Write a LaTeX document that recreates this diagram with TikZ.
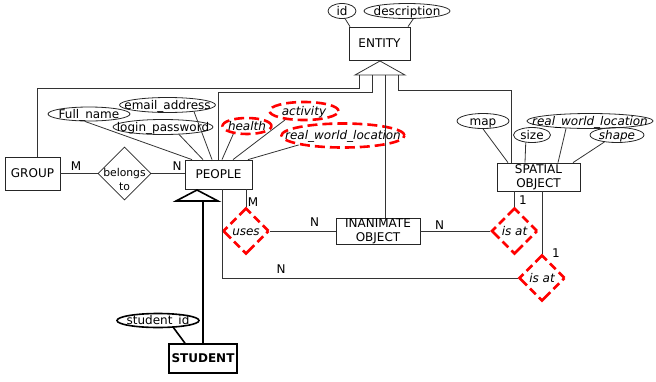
\documentclass[tikz,border=0pt]{standalone}
\usepackage{fontspec}
\setmainfont{DejaVu Sans}[Scale=1.2]
\usetikzlibrary{shapes.geometric}

\begin{document}
\begin{tikzpicture}[x=1pt, y=-1pt,
  ent/.style={draw=black!85, line width=0.8pt, inner sep=0pt, align=center, font=\fontsize{10}{14}\selectfont},
  att/.style={ellipse, draw=black!85, line width=0.8pt, inner sep=0pt, minimum height=14pt},
  datt/.style={ellipse, draw=red, line width=2.6pt, dash pattern=on 10pt off 5pt, inner sep=0pt},
  rel/.style={diamond, draw=black!85, line width=0.8pt, inner sep=0pt},
  drel/.style={diamond, draw=red, line width=2.6pt, inner sep=0pt, minimum width=46pt, minimum height=46pt,
    dash pattern=on 16pt off 4.5pt on 8pt off 4.5pt, dash phase=8pt},
  conn/.style={draw=black!80, line width=0.8pt},
  card/.style={inner sep=0pt},
  every label/.style={inner sep=0pt, text height=9pt, text depth=1pt}]
  \useasboundingbox (0,0) rectangle (656,381);

  \node[ent, minimum width=61pt, minimum height=33pt] (entity) at (379.5,43.5) {ENTITY};
  \node[att, minimum width=28pt, minimum height=15pt, label=center:id] (id) at (342,11) {};
  \node[att, minimum width=86pt, minimum height=15pt, label=center:description] (descr) at (407,11) {};

  \node[ent, minimum width=55pt, minimum height=33pt] (group) at (32.5,173.5) {GROUP};
  \node[rel, minimum width=53pt, minimum height=53pt,
    label={[align=center, text height=, text depth=, font=\fontsize{9}{14}\selectfont, yshift=-6pt]center:belongs\\to}] (belongs) at (124.5,173.5) {};

  \node[ent, minimum width=67pt, minimum height=29pt] (people) at (218.5,174.5) {PEOPLE};
  \node[att, minimum width=82pt, label=center:Full\_name] (fullname) at (89,114) {};
  \node[att, minimum width=96pt, minimum height=15pt, label=center:email\_address] (email) at (167.5,105) {};
  \node[att, minimum width=100pt, minimum height=15pt, label=center:login\_password] (login) at (163,127) {};
  \node[datt, minimum width=49pt, minimum height=16pt, label={[font=\itshape]center:health}] (health) at (247,126) {};
  \node[datt, minimum width=69pt, minimum height=18pt, label={[font=\itshape]center:activity}] (activity) at (304,111) {};
  \node[datt, minimum width=123pt, minimum height=24pt, label={[font=\itshape]center:real\_world\_location}] (plocation) at (343,135.5) {};

  \node[ent, minimum width=83pt, minimum height=28pt] (spatial) at (538.5,177) {SPATIAL\\OBJECT};
  \node[att, minimum width=52pt, minimum height=15pt, label=center:map] (map) at (483,121) {};
  \node[att, minimum width=37pt, minimum height=15pt, label=center:size] (size) at (532,135) {};
  \node[att, minimum width=126pt, minimum height=15pt, label={[font=\itshape]center:real\_world\_location}] (slocation) at (590,121) {};
  \node[att, minimum width=54pt, minimum height=15pt, label={[font=\itshape]center:shape}] (shape) at (617,135) {};

  \node[ent, minimum width=84pt, minimum height=26pt] (inanimate) at (378,231) {INANIMATE\\OBJECT};
  \node[drel, label={[font=\itshape]center:uses}] (uses) at (246,231) {};
  \node[drel, label={[font=\itshape]center:is at}] (isat1) at (514.5,231) {};
  \node[drel, label={[font=\itshape]center:is at}] (isat2) at (542,278) {};

  \node[ent, draw=black, line width=1.6pt, minimum width=68pt, minimum height=29pt, font=\bfseries] (student) at (203,358.5) {STUDENT};
  \node[att, draw=black, line width=1.6pt, minimum width=82pt, label=center:student\_id] (studentid) at (158,320.5) {};

  \node[card] (cgroup) at (76,166) {M};
  \node[card] (cpeople) at (177,166) {N};
  \node[card] (cuses1) at (253,202.5) {M};
  \node[card] (cuses2) at (314.5,222) {N};
  \node[card] (cisat1a) at (439.5,225) {N};
  \node[card] (cisat1b) at (523,200.5) {1};
  \node[card] (cisat2a) at (556,253) {1};
  \node[card] (cisat2b) at (281,269) {N};

  \coordinate (isa1) at (380,61);
  \coordinate (isaG) at (359,75);
  \coordinate (isaP) at (372,75);
  \coordinate (isaI) at (385,75);
  \coordinate (isaS) at (398,75);
  \draw[conn] (isa1) -- (355,75) -- (405,75) -- cycle;
  \draw[conn] (isaG) -- ++(0,13) -| ([xshift=4.5pt]group.north);
  \draw[conn] (isaP) -- ++(0,17) -| (people.north);
  \draw[conn] (isaI) -- (isaI |- inanimate.north);
  \draw[conn] (isaS) -- ++(0,15) -| ([xshift=-27.5pt]spatial.north);

  \draw[conn] (id.-68) -- ([xshift=-29.5pt]entity.north);
  \draw[conn] (descr.-51) -- ([xshift=28.5pt]entity.north);

  \draw[conn] (fullname.-120) -- ([xshift=-26.5pt]people.north);
  \draw[conn] (email.-14) -- ([xshift=-6.5pt]people.north);
  \draw[conn] (login.-25) -- ([xshift=-15.5pt]people.north);
  \draw[conn] (health.-150) -- ([xshift=3.5pt]people.north);
  \draw[conn] (activity.-155) -- ([xshift=14.5pt]people.north);
  \draw[conn] (plocation.-168) -- ([xshift=29.5pt]people.north);

  \draw[conn] (map.south) -- ([xshift=-30.5pt]spatial.north);
  \draw[conn] (size.-130) -- ([xshift=-13.5pt]spatial.north);
  \draw[conn] (slocation.-163) -- ([xshift=19.5pt]spatial.north);
  \draw[conn] (shape.-151) -- ([xshift=34.5pt]spatial.north);

  \draw[conn] (group.east) -- (belongs.west);
  \draw[conn] (belongs.east) -- (belongs.east -| people.west);
  \draw[conn] ([xshift=3.5pt]people.south) |- (isat2.west);
  \draw[conn] (uses.north |- people.south) -- (uses.north);
  \draw[conn] (uses.east) -- (uses.east -| inanimate.west);
  \draw[conn] (inanimate.east) -- (isat1.west);
  \draw[conn] (isat1.north |- spatial.south) -- (isat1.north);
  \draw[conn] (isat2.north |- spatial.south) -- (isat2.north);

  \coordinate (isa2) at (197,190);
  \coordinate (isa2b) at (203,201);
  \draw[line width=1.6pt] (isa2) -- (176,201) -- (218,201) -- cycle;
  \draw[line width=1.6pt] (isa2b) -- (student.north);
  \draw[line width=1.6pt] (studentid.-25) -- ([xshift=-18pt]student.north);
\end{tikzpicture}
\end{document}
